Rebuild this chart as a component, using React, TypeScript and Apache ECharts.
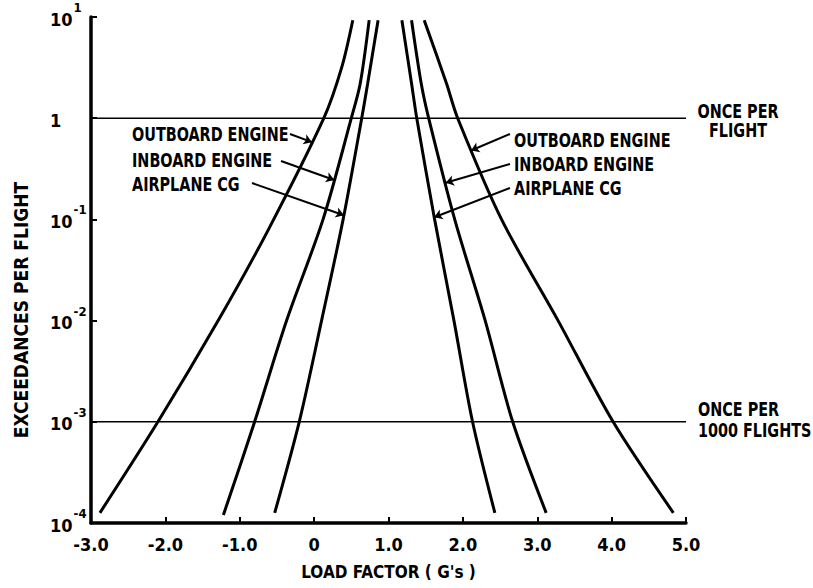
import React, { useEffect, useRef } from 'react';
import * as echarts from 'echarts';

const FONT = '"Liberation Sans Narrow", "DejaVu Sans Condensed", "Arial Narrow", sans-serif';

// Load factor (G's) vs exceedances per flight
const OUTBOARD_L_X = [-2.88, -2.10, -1.29, -0.62, 0.13, 0.37, 0.52];
const OUTBOARD_L_Y = [1.26e-4, 1e-3, 1e-2, 0.078, 1, 3.16, 9.3];
const INBOARD_L_X = [-1.22, -0.80, -0.37, 0.12, 0.50, 0.62, 0.74];
const INBOARD_L_Y = [1.2e-4, 1e-3, 1e-2, 0.1, 1, 2.2, 9.3];
const CG_L_X = [-0.53, -0.20, 0.10, 0.39, 0.64, 0.72, 0.86];
const CG_L_Y = [1.26e-4, 1e-3, 1e-2, 0.1, 1, 2.2, 9.3];
const CG_R_X = [2.43, 2.13, 1.88, 1.62, 1.38, 1.31, 1.18];
const CG_R_Y = [1.26e-4, 1e-3, 1e-2, 0.1, 1, 2.2, 9.3];
const INBOARD_R_X = [3.12, 2.67, 2.30, 1.89, 1.54, 1.44, 1.31];
const INBOARD_R_Y = [1.26e-4, 1e-3, 1e-2, 0.1, 1, 2.2, 9.3];
const OUTBOARD_R_X = [4.83, 4.02, 3.28, 2.52, 1.93, 1.78, 1.48];
const OUTBOARD_R_Y = [1.26e-4, 1e-3, 1e-2, 0.1, 1, 2.2, 9.3];

const REF_LINES = [1, 0.001];
const X_RANGE = [-3, 5];
const LABELS = ['OUTBOARD ENGINE', 'INBOARD ENGINE', 'AIRPLANE CG'];
// arrow tips on curves (data coords)
const TIPS_LEFT = [[-0.03, 0.58], [0.27, 0.245], [0.40, 0.11]];
const TIPS_RIGHT = [[2.11, 0.48], [1.77, 0.23], [1.615, 0.105]];

const zip = (xs: number[], ys: number[]) => xs.map((x, i) => [x, ys[i]]);

export default function App() {
  const ref = useRef<HTMLDivElement>(null);
  useEffect(() => {
    document.body.style.margin = '0';
    const chart = echarts.init(ref.current!, undefined, { renderer: 'svg' });
    const curve = (name: string, xs: number[], ys: number[]) => ({
      name,
      type: 'line',
      data: zip(xs, ys),
      smooth: 0.3,
      showSymbol: false,
      symbol: 'none',
      lineStyle: { color: '#000', width: 3 },
      silent: true,
    });
    const refLine = (v: number) => ({
      name: 'ref ' + v,
      type: 'line',
      data: X_RANGE.map((x) => [x, v]),
      showSymbol: false,
      symbol: 'none',
      lineStyle: { color: '#000', width: 1.6 },
      silent: true,
    });
    const leftTails = [[290, 134], [281, 161], [252, 183]];
    const rightTails = [[510, 134], [510, 164], [510, 188]];
    const arrows = [
      ...TIPS_LEFT.map((t, i) => [{ x: leftTails[i][0], y: leftTails[i][1] }, { coord: t }]),
      ...TIPS_RIGHT.map((t, i) => [{ x: rightTails[i][0], y: rightTails[i][1] }, { coord: t }]),
    ];
    const txt = (text: string, x: number, y: number, extra: any = {}, sy = 1.2) => ({
      type: 'text',
      x,
      y,
      scaleY: sy,
      silent: true,
      style: {
        text,
        fill: '#000',
        fontSize: 16,
        fontWeight: 'bold',
        fontFamily: FONT,
        textAlign: 'left',
        textVerticalAlign: 'middle',
        ...extra,
      },
    });
    const leftY = [134, 160, 184];
    const rightY = [140, 164, 188];
    chart.setOption({
      animation: false,
      backgroundColor: '#fff',
      grid: { left: 91, right: 127, top: 17, bottom: 65, containLabel: false },
      xAxis: {
        type: 'value',
        min: -3,
        max: 5,
        interval: 1,
        name: "LOAD FACTOR ( G's )",
        nameLocation: 'middle',
        nameGap: 40,
        nameTextStyle: { fontSize: 17, fontWeight: 'bold', fontFamily: FONT, color: '#000' },
        axisLine: { show: true, onZero: false, lineStyle: { color: '#000', width: 3.5 } },
        axisTick: { show: true, inside: true, length: 6, lineStyle: { color: '#000', width: 2 } },
        axisLabel: {
          margin: 12,
          fontSize: 18,
          fontWeight: 'bold',
          fontFamily: FONT,
          color: '#000',
          formatter: (v: number) => (v === 0 ? '0' : v.toFixed(1)),
        },
        splitLine: { show: false },
      },
      yAxis: {
        type: 'log',
        logBase: 10,
        min: 1e-4,
        max: 10,
        axisLine: { show: true, onZero: false, lineStyle: { color: '#000', width: 3.5 } },
        axisTick: { show: true, inside: true, length: 6, lineStyle: { color: '#000', width: 2 } },
        splitLine: { show: false },
        axisLabel: {
          align: 'left',
          margin: 41,
          color: '#000',
          formatter: (v: number) => {
            const e = Math.round(Math.log10(v));
            if (e === 0) return '{b|1}';
            return `{b|10}{s|${e}}`;
          },
          rich: {
            b: { fontSize: 18, fontWeight: 'bold', fontFamily: FONT, color: '#000', lineHeight: 22, verticalAlign: 'bottom' },
            s: { fontSize: 13, fontWeight: 'bold', fontFamily: FONT, color: '#000', lineHeight: 14, verticalAlign: 'bottom', padding: [0, 0, 14, 1] },
          },
        },
      },
      series: [
        refLine(REF_LINES[0]),
        refLine(REF_LINES[1]),
        {
          ...curve('Outboard engine (left)', OUTBOARD_L_X, OUTBOARD_L_Y),
          markLine: {
            silent: true,
            symbol: ['none', 'arrow'],
            symbolSize: 8,
            label: { show: false },
            lineStyle: { color: '#000', width: 2, type: 'solid' },
            data: arrows,
          },
        },
        curve('Inboard engine (left)', INBOARD_L_X, INBOARD_L_Y),
        curve('Airplane CG (left)', CG_L_X, CG_L_Y),
        curve('Airplane CG (right)', CG_R_X, CG_R_Y),
        curve('Inboard engine (right)', INBOARD_R_X, INBOARD_R_Y),
        curve('Outboard engine (right)', OUTBOARD_R_X, OUTBOARD_R_Y),
      ],
      graphic: [
        ...LABELS.map((l, i) => txt(l, 132, leftY[i])),
        ...LABELS.map((l, i) => txt(l, 514, rightY[i])),
        txt('ONCE PER\nFLIGHT', 738, 121, { textAlign: 'center', lineHeight: 16 }),
        txt('ONCE PER\n1000 FLIGHTS', 698, 420, { lineHeight: 17 }),
        {
          type: 'text',
          x: 21,
          y: 310,
          rotation: Math.PI / 2,
          silent: true,
          style: {
            text: 'EXCEEDANCES PER FLIGHT',
            fill: '#000',
            fontSize: 19,
            fontWeight: 'bold',
            fontFamily: FONT,
            textAlign: 'center',
            textVerticalAlign: 'middle',
          },
        },
      ],
    });
    return () => chart.dispose();
  }, []);
  return <div ref={ref} style={{ width: 813, height: 588 }} />;
}
